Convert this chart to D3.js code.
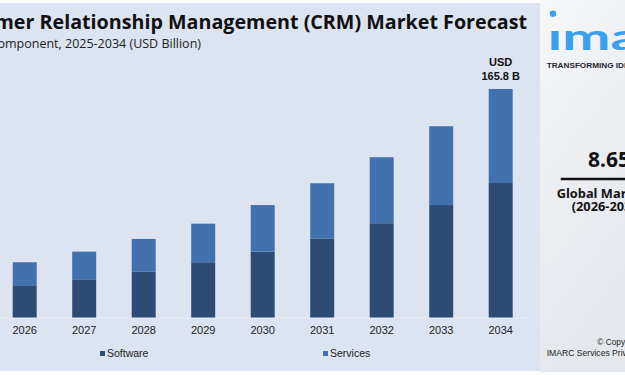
<!DOCTYPE html>
<html>
<head>
<meta charset="utf-8">
<script src="https://cdn.jsdelivr.net/npm/d3@7"></script>
<style>
  body { margin: 0; background: #ffffff; }
  svg { display: block; }
</style>
</head>
<body>
<div id="chart-area"></div>
<script>
// CRM market forecast, stacked bars by component
const years = ["2026", "2027", "2028", "2029", "2030", "2031", "2032", "2033", "2034"];
const software = [23.4, 27.7, 33.2, 40.1, 47.8, 57.2, 68.4, 81.6, 97.6];
const services = [16.7, 20.1, 23.8, 28.0, 33.8, 40.2, 47.9, 57.2, 68.2];
const seriesNames = ["Software", "Services"];
const seriesColors = ["#2c4c76", "#4272ae"];
const lastLabel = ["USD", "165.8 B"];

const width = 625, height = 375;

const svg = d3.select("#chart-area").append("svg")
    .attr("width", width)
    .attr("height", height);

let defs = svg.append("defs");
let grad = defs.append("linearGradient")
    .attr("id", "side-grad")
    .attr("x1", "0").attr("y1", "0")
    .attr("x2", "0.3").attr("y2", "1");
grad.append("stop").attr("offset", "0").attr("stop-color", "#f6f7f9");
grad.append("stop").attr("offset", "0.5").attr("stop-color", "#eceef2");
grad.append("stop").attr("offset", "1").attr("stop-color", "#e4e7ec");

// main lavender panel
svg.append("rect")
    .attr("x", 0).attr("y", 3)
    .attr("width", 540).attr("height", 368)
    .attr("fill", "#dce3f1");

// right side panel
svg.append("rect")
    .attr("x", 540).attr("y", 0)
    .attr("width", 85).attr("height", 372)
    .attr("fill", "url(#side-grad)");

// titles (the left part runs off the picture, as in the source)
svg.append("text")
    .attr("x", 527).attr("y", 29)
    .attr("text-anchor", "end")
    .attr("font-family", "'Open Sans', sans-serif")
    .attr("font-weight", 700)
    .attr("font-size", 19.7)
    .attr("fill", "#111")
    .text("Customer Relationship Management (CRM) Market Forecast");

svg.append("text")
    .attr("x", 201).attr("y", 48)
    .attr("text-anchor", "end")
    .attr("font-family", "'Open Sans', sans-serif")
    .attr("font-size", 12.5)
    .attr("fill", "#222")
    .text("By Component, 2025-2034 (USD Billion)");

// scales
const x = d3.scaleBand()
    .domain(years)
    .range([12.7, 512.7])
    .paddingInner(0.597)
    .paddingOuter(0);

const y = d3.scaleLinear()
    .domain([0, 165.8])
    .range([317.5, 89]);

const table = years.map((yr, i) => ({ year: yr, Software: software[i], Services: services[i] }));
const stacked = d3.stack().keys(seriesNames)(table);

const chart = svg.append("g");

// baseline
chart.append("line")
    .attr("x1", 0).attr("x2", 527)
    .attr("y1", y(0) + 0.5).attr("y2", y(0) + 0.5)
    .attr("stroke", "#e9edf6")
    .attr("stroke-width", 1);

chart.selectAll(".layer")
    .data(stacked)
    .enter().append("g")
    .attr("class", "layer")
    .attr("fill", (d, i) => seriesColors[i])
    .selectAll("rect")
    .data(d => d)
    .enter().append("rect")
    .attr("x", d => x(d.data.year))
    .attr("y", d => y(d[1]))
    .attr("width", x.bandwidth())
    .attr("height", d => y(d[0]) - y(d[1]));

// x axis
const xAxis = d3.axisBottom(x).tickSize(0).tickPadding(9);
const xg = chart.append("g")
    .attr("transform", "translate(0," + y(0) + ")")
    .call(xAxis);
xg.select(".domain").remove();
xg.selectAll("text")
    .attr("font-family", "'Liberation Sans', Arial, sans-serif")
    .attr("font-size", 11)
    .attr("fill", "#222");

// value label above last bar
const lastYear = years[years.length - 1];
const lastTotal = software[software.length - 1] + services[services.length - 1];
const lab = chart.append("text")
    .attr("x", x(lastYear) + x.bandwidth() / 2)
    .attr("text-anchor", "middle")
    .attr("font-family", "'Liberation Sans', Arial, sans-serif")
    .attr("font-weight", 700)
    .attr("font-size", 11)
    .attr("fill", "#111");
lab.append("tspan").attr("x", x(lastYear) + x.bandwidth() / 2).attr("y", y(lastTotal) - 23).text(lastLabel[0]);
lab.append("tspan").attr("x", x(lastYear) + x.bandwidth() / 2).attr("y", y(lastTotal) - 9).text(lastLabel[1]);

// legend
const legendX = [100, 323];
const legend = svg.selectAll(".legend")
    .data(seriesNames)
    .enter().append("g")
    .attr("class", "legend")
    .attr("transform", (d, i) => "translate(" + legendX[i] + ",351)");
legend.append("rect")
    .attr("width", 5).attr("height", 5)
    .attr("fill", (d, i) => seriesColors[i]);
legend.append("text")
    .attr("x", 7).attr("y", 5.5)
    .attr("font-family", "'Liberation Sans', Arial, sans-serif")
    .attr("font-size", 10.5)
    .attr("fill", "#222")
    .text(d => d);

// side panel content (cut off at the right edge)
const side = svg.append("g");
side.append("circle")
    .attr("cx", 553).attr("cy", 13.7).attr("r", 3.2)
    .attr("fill", "#3b9ff0");
side.append("text")
    .attr("transform", "translate(547.5,50) scale(1.6,1)")
    .attr("font-family", "'Lato', sans-serif")
    .attr("font-weight", 700)
    .attr("font-size", 36)
    .attr("fill", "#3b9ff0")
    .text("ımarc");
side.append("text")
    .attr("transform", "translate(546.7,67.5) scale(1.17,1)")
    .attr("font-family", "'Liberation Sans', Arial, sans-serif")
    .attr("font-weight", 700)
    .attr("font-size", 7)
    .attr("fill", "#1e2430")
    .text("TRANSFORMING IDEAS INTO IMPACT");

side.append("text")
    .attr("x", 588).attr("y", 166.5)
    .attr("font-family", "'Open Sans', sans-serif")
    .attr("font-weight", 700)
    .attr("font-size", 21)
    .attr("fill", "#111")
    .text("8.65%");
side.append("line")
    .attr("x1", 560.7).attr("x2", 640)
    .attr("y1", 179).attr("y2", 179)
    .attr("stroke", "#111")
    .attr("stroke-width", 2.6);
side.append("text")
    .attr("x", 556.7).attr("y", 197.5)
    .attr("font-family", "'Open Sans', sans-serif")
    .attr("font-weight", 700)
    .attr("font-size", 12.8)
    .attr("fill", "#111")
    .text("Global Market Growth Rate");
side.append("text")
    .attr("x", 571.7).attr("y", 210.5)
    .attr("font-family", "'Open Sans', sans-serif")
    .attr("font-weight", 700)
    .attr("font-size", 12.8)
    .attr("fill", "#111")
    .text("(2026-2034)");

side.append("text")
    .attr("x", 597.3).attr("y", 345)
    .attr("font-family", "'Liberation Sans', Arial, sans-serif")
    .attr("font-size", 8.3)
    .attr("fill", "#222")
    .text("\u00a9 Copyright");
side.append("text")
    .attr("x", 546.7).attr("y", 355.5)
    .attr("font-family", "'Liberation Sans', Arial, sans-serif")
    .attr("font-size", 8.6)
    .attr("fill", "#222")
    .text("IMARC Services Private Limited");
</script>
</body>
</html>
